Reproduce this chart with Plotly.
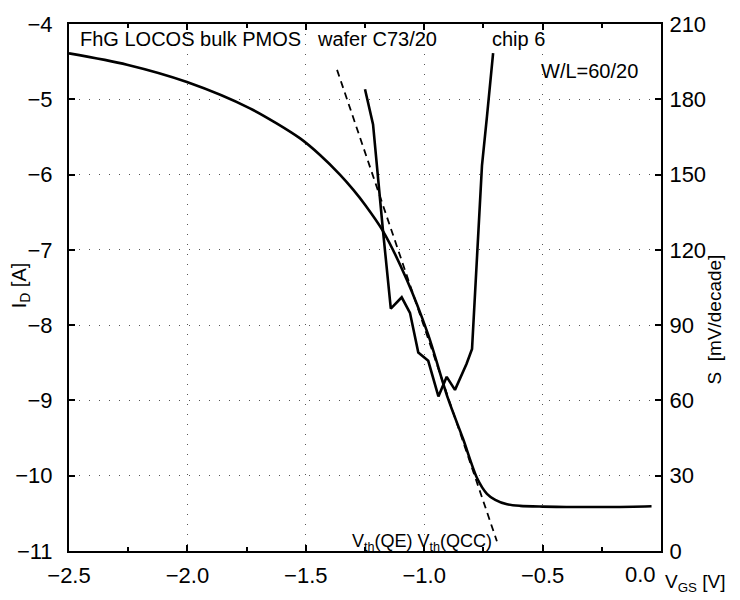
import plotly.graph_objects as go

# ---- data ----
vgs_id = [-2.5, -2.255, -2.002, -1.736, -1.524, -1.44, -1.356, -1.30, -1.25, -1.174, -1.073,
          -0.984, -0.90, -0.836, -0.777, -0.735, -0.70, -0.65, -0.595, -0.5, -0.4, -0.2, -0.04]
log_id = [-4.39, -4.54, -4.77, -5.12, -5.52, -5.74, -6.00, -6.20, -6.40, -6.75, -7.40,
          -8.12, -8.97, -9.51, -10.03, -10.24, -10.32, -10.38, -10.40, -10.41, -10.415, -10.415, -10.405]

vgs_s = [-1.250, -1.216, -1.174, -1.141, -1.095, -1.060, -1.025, -0.983, -0.940, -0.905,
         -0.870, -0.821, -0.798, -0.785, -0.756, -0.735, -0.709]
s_vals = [184.0, 170.0, 127.6, 96.6, 101.1, 94.9, 79.1, 75.8, 61.6, 69.4,
          64.2, 74.6, 80.5, 101.9, 153.6, 173.1, 198.4]

tangent_vgs = [-1.368, -0.693]
tangent_logid = [-4.609, -10.871]

x_ticks = [-2.5, -2.0, -1.5, -1.0, -0.5]
x_ticktext = ["\u22122.5", "\u22122.0", "\u22121.5", "\u22121.0", "\u22120.5"]
y_ticks = [-11, -10, -9, -8, -7, -6, -5, -4]
s_ticks = [0, 30, 60, 90, 120, 150, 180, 210]

FONT = "Liberation Sans, Arial, sans-serif"
GRID = dict(showgrid=True, gridcolor="#555555", gridwidth=1, griddash="1px,9px")

fig = go.Figure()
fig.add_trace(go.Scatter(x=vgs_id, y=log_id, mode="lines",
                         line=dict(color="black", width=2.6, shape="spline", smoothing=0.8),
                         showlegend=False, hoverinfo="skip"))
fig.add_trace(go.Scatter(x=tangent_vgs, y=tangent_logid, mode="lines",
                         line=dict(color="black", width=1.8, dash="7px,5px"),
                         showlegend=False, hoverinfo="skip"))
fig.add_trace(go.Scatter(x=vgs_s, y=s_vals, mode="lines", yaxis="y2",
                         line=dict(color="black", width=2.6),
                         showlegend=False, hoverinfo="skip"))

fig.update_layout(
    width=740, height=600,
    margin=dict(l=69, r=79, t=15, b=45),
    paper_bgcolor="white", plot_bgcolor="white",
    font=dict(family=FONT, color="black"),
    xaxis=dict(range=[-2.5, 0], tickvals=x_ticks, ticktext=x_ticktext,
               ticks="inside", ticklen=6, tickwidth=1.5, tickcolor="black",
               showline=True, linewidth=2, linecolor="black", mirror="ticks",
               tickfont=dict(size=22), ticklabelstandoff=4, zeroline=False,
               minor=dict(dtick=0.25, tick0=0, ticks="inside", ticklen=4, tickcolor="black", showgrid=False),
               **GRID),
    yaxis=dict(range=[-11, -4], tickvals=y_ticks,
               ticks="inside", ticklen=6, tickwidth=1.5, tickcolor="black",
               showline=True, linewidth=2, linecolor="black", mirror=True,
               tickfont=dict(size=22), ticklabelstandoff=10, zeroline=False,
               **GRID),
    yaxis2=dict(range=[0, 210], tickvals=s_ticks, overlaying="y", side="right",
                ticks="inside", ticklen=6, tickwidth=1.5, tickcolor="black",
                showline=True, linewidth=2, linecolor="black",
                tickfont=dict(size=22), ticklabelstandoff=2, showgrid=False, zeroline=False),
)

def ann(text, x, y, size, xanchor="left", yanchor="middle", angle=0):
    fig.add_annotation(text=text, x=x, y=y, xref="paper", yref="paper",
                       xanchor=xanchor, yanchor=yanchor, textangle=angle,
                       showarrow=False, font=dict(size=size, family=FONT, color="black"))

ann("FhG LOCOS bulk PMOS", 0.0152, 0.972, 20)
ann("wafer C73/20", 0.4155, 0.972, 20)
ann("chip 6", 0.711, 0.972, 20)
ann("W/L=60/20", 0.9645, 0.911, 20, xanchor="right")
ann("V<sub>th</sub>(QE) V<sub>th</sub>(QCC)", 0.474, 0.0167, 18)
ann("0.0", 0.995, -0.0444, 22, xanchor="right")
ann("V<sub>GS</sub> [V]", 1.0034, -0.061, 19)
ann("I<sub>D</sub> [A]", -0.0828, 0.504, 20, xanchor="center", angle=-90)
ann("S  [mV/decade]", 1.091, 0.439, 19, xanchor="center", angle=-90)

fig.write_html("out.html")
